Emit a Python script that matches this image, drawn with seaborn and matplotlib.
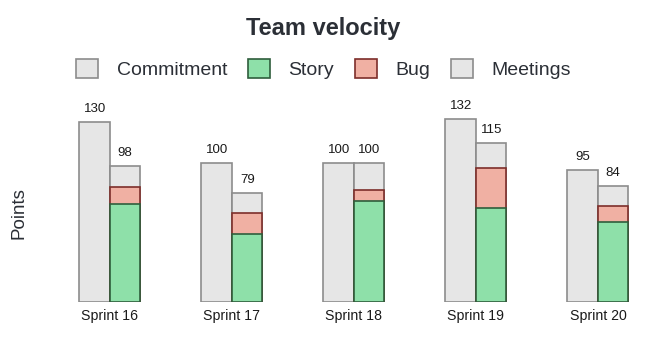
import numpy as np
import pandas as pd
import matplotlib
matplotlib.use("Agg")
import matplotlib.pyplot as plt
import seaborn as sns
from matplotlib.patches import Patch

sprints = ["Sprint 16", "Sprint 17", "Sprint 18", "Sprint 19", "Sprint 20"]
commitment = [130, 100, 100, 132, 95]
story = [71, 49, 73, 68, 58]
bug = [12, 15, 8, 29, 11]
meetings = [15, 15, 19, 18, 15]

GREY = "#e6e6e6"
GREY_EDGE = "#8c8c8c"
GREEN = "#8ee0a9"
GREEN_EDGE = "#2f5e3c"
RED = "#f0b0a3"
RED_EDGE = "#7d2e2a"
TEXT = "#2b2f36"

sns.set_theme(style="white")
plt.rcParams["font.family"] = ["Liberation Sans", "DejaVu Sans"]

totals = [s + b + m for s, b, m in zip(story, bug, meetings)]
story_bug = [s + b for s, b in zip(story, bug)]

levels = ["Commitment", "Actual"]
df_top = pd.DataFrame({
    "sprint": sprints * 2,
    "kind": ["Commitment"] * len(sprints) + ["Actual"] * len(sprints),
    "value": commitment + totals,
})
df_bug = pd.DataFrame({"sprint": sprints, "kind": ["Actual"] * len(sprints), "value": story_bug})
df_story = pd.DataFrame({"sprint": sprints, "kind": ["Actual"] * len(sprints), "value": story})

fig = plt.figure(figsize=(6.47, 3.53), dpi=100)
ax = fig.add_axes([58 / 647, (353 - 302.3) / 353, (637 - 58) / 647, (302.3 - 100.9) / 353])

common = dict(x="sprint", y="value", hue="kind", hue_order=levels, order=sprints,
              width=0.5, gap=0, dodge=True, saturation=1, linewidth=1.2,
              errorbar=None, legend=False, ax=ax)

sns.barplot(data=df_top, palette={"Commitment": GREY, "Actual": GREY},
            edgecolor=GREY_EDGE, **common)
for cont in list(ax.containers):
    ax.bar_label(cont, labels=[f"{int(v)}" for v in cont.datavalues], padding=5,
                 fontsize=9.5, color="#1a1a1a")

sns.barplot(data=df_bug, palette={"Commitment": RED, "Actual": RED},
            edgecolor=RED_EDGE, **common)
sns.barplot(data=df_story, palette={"Commitment": GREEN, "Actual": GREEN},
            edgecolor=GREEN_EDGE, **common)

ax.set_ylim(0, 145)
ax.set_xlim(-0.426, 4.32)
ax.set_xlabel("")
ax.set_ylabel("")
ax.set_yticks([])
ax.tick_params(axis="x", length=0, labelsize=10.2, labelcolor="#1a1a1a", pad=5)
sns.despine(ax=ax, left=True, bottom=True, top=True, right=True)

fig.text(19 / 647, 1 - 213 / 353, "Points", rotation=90, ha="center", va="center",
         fontsize=13.5, color=TEXT)
fig.text(0.5, 1 - 28 / 353, "Team velocity", ha="center", va="center",
         fontsize=17, fontweight="bold", color=TEXT)

handles = [
    Patch(facecolor=GREY, edgecolor=GREY_EDGE, linewidth=1.2, label="Commitment"),
    Patch(facecolor=GREEN, edgecolor=GREEN_EDGE, linewidth=1.2, label="Story"),
    Patch(facecolor=RED, edgecolor=RED_EDGE, linewidth=1.2, label="Bug"),
    Patch(facecolor=GREY, edgecolor=GREY_EDGE, linewidth=1.2, label="Meetings"),
]
fig.legend(handles=handles, loc="center", bbox_to_anchor=(0.5, 1 - 69 / 353), ncol=4,
           frameon=False, fontsize=14, handlelength=1.15, handleheight=1.15,
           handletextpad=0.95, columnspacing=1.05, labelcolor=TEXT, borderpad=0)

fig.savefig("out.png", dpi=100)
